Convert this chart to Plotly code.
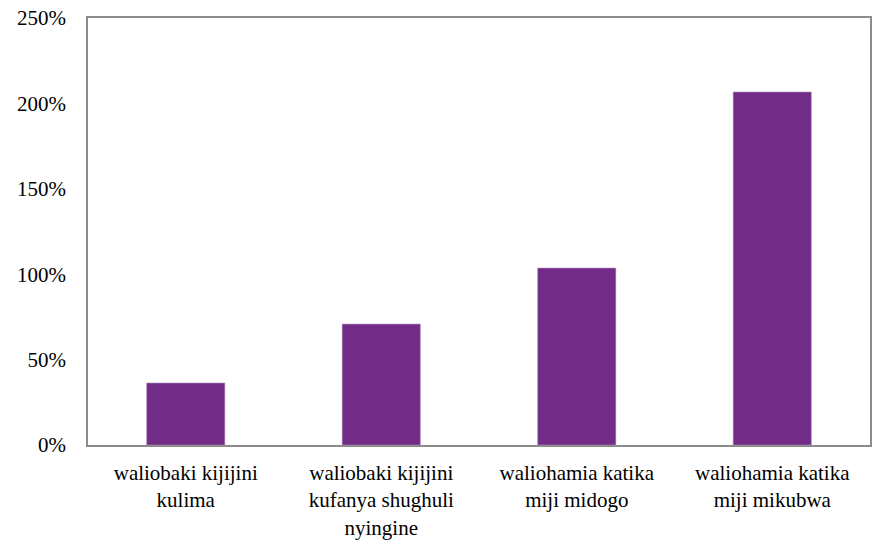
import plotly.graph_objects as go

categories = [
    "waliobaki kijijini<br>kulima",
    "waliobaki kijijini<br>kufanya shughuli<br>nyingine",
    "waliohamia katika<br>miji midogo",
    "waliohamia katika<br>miji mikubwa",
]
values = [0.363, 0.708, 1.036, 2.067]
tick_vals = [0, 0.5, 1.0, 1.5, 2.0, 2.5]
tick_text = ["0%", "50%", "100%", "150%", "200%", "250%"]

SERIF = "'Times New Roman', 'Liberation Serif', 'DejaVu Serif', serif"

fig = go.Figure(go.Bar(
    x=categories, y=values,
    marker=dict(color="#722C88", line=dict(color="#B58FC4", width=0.6)),
    hoverinfo="skip",
))

fig.update_layout(
    width=873, height=541,
    margin=dict(l=88, r=3, t=18, b=96),
    paper_bgcolor="white", plot_bgcolor="white",
    bargap=0.6,
    showlegend=False,
    font=dict(family=SERIF, color="black", size=21),
)
fig.update_xaxes(
    showline=True, linecolor="#8C8C8C", linewidth=1.5, mirror=True,
    showgrid=False, ticks="", tickfont=dict(family=SERIF, size=21),
    automargin=False, ticklabelstandoff=8,
)
fig.update_yaxes(
    range=[0, 2.5], tickvals=tick_vals, ticktext=tick_text,
    showline=True, linecolor="#8C8C8C", linewidth=1.5, mirror=True,
    showgrid=False, zeroline=False, ticks="",
    tickfont=dict(family=SERIF, size=21), automargin=False,
    ticklabelstandoff=16,
)

fig.write_html(
    "out.html",
    config={"displayModeBar": False},
    post_script="document.body.style.margin='0';document.body.style.overflow='hidden';",
)
